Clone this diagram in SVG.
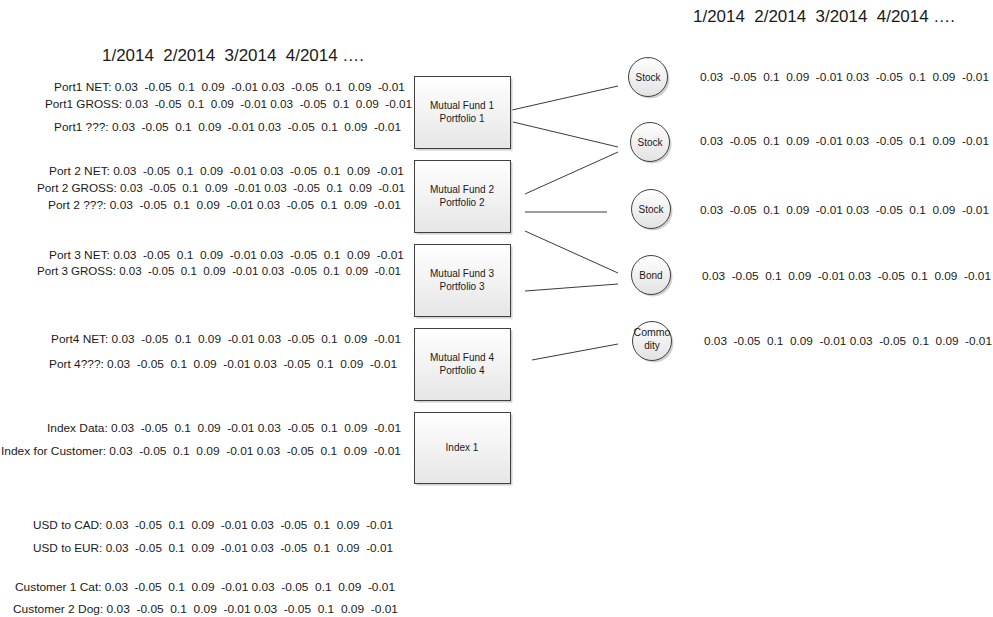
<svg xmlns="http://www.w3.org/2000/svg" width="993" height="617" viewBox="0 0 993 617" xml:space="preserve">
<defs>
<linearGradient id="gBox" x1="0" y1="0" x2="0" y2="1"><stop offset="0" stop-color="#ffffff"/><stop offset="1" stop-color="#e6e6e6"/></linearGradient>
<linearGradient id="gCirc" x1="0" y1="0" x2="0" y2="1"><stop offset="0" stop-color="#ffffff"/><stop offset="1" stop-color="#e2e2e2"/></linearGradient>
</defs>
<style>
text{font-family:"Liberation Sans",Arial,sans-serif;fill:#1a1a1a;white-space:pre}
.v{font-size:11px}
.h{font-size:16px}
.bt{font-size:10px;text-anchor:middle}
.ct{font-size:10px;text-anchor:middle}
.box{fill:url(#gBox);stroke:#404040;stroke-width:1}
.sh{fill:#cfcfcf}
.circ{fill:url(#gCirc);stroke:#404040;stroke-width:1}
.cs{fill:#d0d0d0}
.ln{stroke:#3a3a3a;stroke-width:1;fill:none}
</style>
<rect width="993" height="617" fill="#ffffff"/>

<g id="headers">
<text class="h" x="693" y="22" textLength="262" lengthAdjust="spacingAndGlyphs">1/2014  2/2014  3/2014  4/2014 ….</text>
<text class="h" x="102" y="61" textLength="262" lengthAdjust="spacingAndGlyphs">1/2014  2/2014  3/2014  4/2014 ….</text>
</g>

<g id="left-data">
<text class="v" x="54" y="91" textLength="351" lengthAdjust="spacingAndGlyphs">Port1 NET: 0.03  -0.05  0.1  0.09  -0.01 0.03  -0.05  0.1  0.09  -0.01</text>
<text class="v" x="45" y="108" textLength="367" lengthAdjust="spacingAndGlyphs">Port1 GROSS: 0.03  -0.05  0.1  0.09  -0.01 0.03  -0.05  0.1  0.09  -0.01</text>
<text class="v" x="54" y="131" textLength="347" lengthAdjust="spacingAndGlyphs">Port1 ???: 0.03  -0.05  0.1  0.09  -0.01 0.03  -0.05  0.1  0.09  -0.01</text>
<text class="v" x="49" y="175" textLength="355" lengthAdjust="spacingAndGlyphs">Port 2 NET: 0.03  -0.05  0.1  0.09  -0.01 0.03  -0.05  0.1  0.09  -0.01</text>
<text class="v" x="37" y="192" textLength="368" lengthAdjust="spacingAndGlyphs">Port 2 GROSS: 0.03  -0.05  0.1  0.09  -0.01 0.03  -0.05  0.1  0.09  -0.01</text>
<text class="v" x="48" y="209" textLength="353" lengthAdjust="spacingAndGlyphs">Port 2 ???: 0.03  -0.05  0.1  0.09  -0.01 0.03  -0.05  0.1  0.09  -0.01</text>
<text class="v" x="49" y="259" textLength="355" lengthAdjust="spacingAndGlyphs">Port 3 NET: 0.03  -0.05  0.1  0.09  -0.01 0.03  -0.05  0.1  0.09  -0.01</text>
<text class="v" x="37" y="275" textLength="364" lengthAdjust="spacingAndGlyphs">Port 3 GROSS: 0.03  -0.05  0.1  0.09  -0.01 0.03  -0.05  0.1  0.09  -0.01</text>
<text class="v" x="51" y="343" textLength="350" lengthAdjust="spacingAndGlyphs">Port4 NET: 0.03  -0.05  0.1  0.09  -0.01 0.03  -0.05  0.1  0.09  -0.01</text>
<text class="v" x="49" y="368" textLength="348" lengthAdjust="spacingAndGlyphs">Port 4???: 0.03  -0.05  0.1  0.09  -0.01 0.03  -0.05  0.1  0.09  -0.01</text>
<text class="v" x="47" y="432" textLength="354" lengthAdjust="spacingAndGlyphs">Index Data: 0.03  -0.05  0.1  0.09  -0.01 0.03  -0.05  0.1  0.09  -0.01</text>
<text class="v" x="1" y="455" textLength="400" lengthAdjust="spacingAndGlyphs">Index for Customer: 0.03  -0.05  0.1  0.09  -0.01 0.03  -0.05  0.1  0.09  -0.01</text>
<text class="v" x="33" y="529" textLength="360" lengthAdjust="spacingAndGlyphs">USD to CAD: 0.03  -0.05  0.1  0.09  -0.01 0.03  -0.05  0.1  0.09  -0.01</text>
<text class="v" x="33" y="552" textLength="360" lengthAdjust="spacingAndGlyphs">USD to EUR: 0.03  -0.05  0.1  0.09  -0.01 0.03  -0.05  0.1  0.09  -0.01</text>
<text class="v" x="15" y="591" textLength="380" lengthAdjust="spacingAndGlyphs">Customer 1 Cat: 0.03  -0.05  0.1  0.09  -0.01 0.03  -0.05  0.1  0.09  -0.01</text>
<text class="v" x="13" y="613" textLength="385" lengthAdjust="spacingAndGlyphs">Customer 2 Dog: 0.03  -0.05  0.1  0.09  -0.01 0.03  -0.05  0.1  0.09  -0.01</text>
</g>

<g id="right-data">
<text class="v" x="700" y="81" textLength="289" lengthAdjust="spacingAndGlyphs">0.03  -0.05  0.1  0.09  -0.01 0.03  -0.05  0.1  0.09  -0.01</text>
<text class="v" x="700" y="145" textLength="289" lengthAdjust="spacingAndGlyphs">0.03  -0.05  0.1  0.09  -0.01 0.03  -0.05  0.1  0.09  -0.01</text>
<text class="v" x="700" y="214" textLength="289" lengthAdjust="spacingAndGlyphs">0.03  -0.05  0.1  0.09  -0.01 0.03  -0.05  0.1  0.09  -0.01</text>
<text class="v" x="702" y="280" textLength="289" lengthAdjust="spacingAndGlyphs">0.03  -0.05  0.1  0.09  -0.01 0.03  -0.05  0.1  0.09  -0.01</text>
<text class="v" x="704" y="345" textLength="288" lengthAdjust="spacingAndGlyphs">0.03  -0.05  0.1  0.09  -0.01 0.03  -0.05  0.1  0.09  -0.01</text>
</g>

<g id="connectors">
<line class="ln" x1="512" y1="110" x2="618" y2="86"/>
<line class="ln" x1="513" y1="122" x2="618" y2="147"/>
<line class="ln" x1="525" y1="194" x2="618" y2="152"/>
<line class="ln" x1="525" y1="212" x2="607" y2="212"/>
<line class="ln" x1="525" y1="231" x2="618" y2="273"/>
<line class="ln" x1="525" y1="291" x2="618" y2="284"/>
<line class="ln" x1="532" y1="360" x2="618" y2="344"/>
</g>

<g id="fund1">
<rect class="sh" x="416.5" y="78.5" width="96" height="72"/>
<rect class="box" x="414.5" y="76.5" width="96" height="72"/>
<text class="bt" x="462" y="109">Mutual Fund 1</text>
<text class="bt" x="462" y="122">Portfolio 1</text>
</g>
<g id="fund2">
<rect class="sh" x="416.5" y="162.5" width="96" height="72"/>
<rect class="box" x="414.5" y="160.5" width="96" height="72"/>
<text class="bt" x="462" y="193">Mutual Fund 2</text>
<text class="bt" x="462" y="206">Portfolio 2</text>
</g>
<g id="fund3">
<rect class="sh" x="416.5" y="246.5" width="96" height="72"/>
<rect class="box" x="414.5" y="244.5" width="96" height="72"/>
<text class="bt" x="462" y="277">Mutual Fund 3</text>
<text class="bt" x="462" y="290">Portfolio 3</text>
</g>
<g id="fund4">
<rect class="sh" x="416.5" y="330.5" width="96" height="72"/>
<rect class="box" x="414.5" y="328.5" width="96" height="72"/>
<text class="bt" x="462" y="361">Mutual Fund 4</text>
<text class="bt" x="462" y="374">Portfolio 4</text>
</g>
<g id="index1">
<rect class="sh" x="416.5" y="414.5" width="96" height="71"/>
<rect class="box" x="414.5" y="412.5" width="96" height="71"/>
<text class="bt" x="462" y="451">Index 1</text>
</g>

<g id="stock1">
<circle class="cs" cx="650" cy="79" r="19.5"/>
<circle class="circ" cx="648" cy="77" r="19.5"/>
<text class="ct" x="648" y="80.5">Stock</text>
</g>
<g id="stock2">
<circle class="cs" cx="652" cy="144" r="19.5"/>
<circle class="circ" cx="650" cy="142" r="19.5"/>
<text class="ct" x="650" y="145.5">Stock</text>
</g>
<g id="stock3">
<circle class="cs" cx="653" cy="211" r="19.5"/>
<circle class="circ" cx="651" cy="209" r="19.5"/>
<text class="ct" x="651" y="212.5">Stock</text>
</g>
<g id="bond">
<circle class="cs" cx="653" cy="277" r="19.5"/>
<circle class="circ" cx="651" cy="275" r="19.5"/>
<text class="ct" x="651" y="278.5">Bond</text>
</g>
<g id="commodity">
<circle class="cs" cx="654" cy="343" r="19.5"/>
<circle class="circ" cx="652" cy="341" r="19.5"/>
<text class="ct" x="652" y="336" textLength="37" lengthAdjust="spacingAndGlyphs">Commo</text>
<text class="ct" x="652" y="349">dity</text>
</g>
</svg>
